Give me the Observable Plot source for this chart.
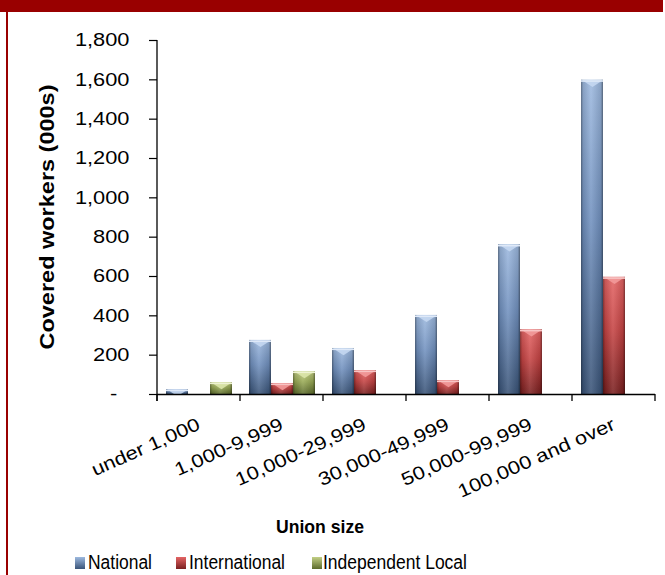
<!DOCTYPE html>
<html>
<head>
<meta charset="utf-8">
<script src="https://cdn.jsdelivr.net/npm/d3@7"></script>
<script src="https://cdn.jsdelivr.net/npm/@observablehq/plot@0.6"></script>
<style>
html, body { margin: 0; padding: 0; background: #fff; }
#wrap { position: relative; width: 665px; height: 575px; overflow: hidden; background: #fff; font-family: "Liberation Sans", Arial, sans-serif; }
#topbar { position: absolute; left: 0; top: 0; width: 663px; height: 12px; background: #990000; }
#leftline { position: absolute; left: 6px; top: 12px; width: 2px; height: 563px; background: #990000; }
#chart { position: absolute; left: 0; top: 0; }
#overlay { position: absolute; left: 0; top: 0; pointer-events: none; }
</style>
</head>
<body>
<div id="wrap">
  <div id="chart"></div>
  <div id="topbar"></div>
  <div id="leftline"></div>
</div>
<script>
// ---- data ----
const categories = ["under 1,000", "1,000-9,999", "10,000-29,999", "30,000-49,999", "50,000-99,999", "100,000 and over"];
const series = ["National", "International", "Independent Local"];
const national = [25, 275, 234, 402, 761, 1598];
const international = [null, 56, 122, 71, 329, 596];
const independentLocal = [61, 117, null, null, null, null];
const yTicks = [0, 200, 400, 600, 800, 1000, 1200, 1400, 1600, 1800];
const yLabel = "Covered workers (000s)";
const xLabel = "Union size";

const seriesValues = [national, international, independentLocal];
const rows = [];
categories.forEach((c, i) => {
  series.forEach((s, k) => {
    const v = seriesValues[k][i];
    if (v != null) rows.push({category: c, series: s, value: v});
  });
});

// gradient palettes (top, middle, bottom), bevel highlight and top edge colours
const grads = [
  {id: "gNat", stops: ["#9db9df", "#7191bf", "#3a5478"], bevel: "#c4d7f1", edge: "#dfe9f8"},
  {id: "gInt", stops: ["#e46464", "#c64444", "#7a2020"], bevel: "#f29a9a", edge: "#f8c4c4"},
  {id: "gLoc", stops: ["#c2cf85", "#9aab56", "#5c6b2c"], bevel: "#dbe5aa", edge: "#eef3d2"}
];

const fmt = d => d === 0 ? "-\u00a0\u00a0" : d3.format(",")(d);

// chevron-shaped top bevel symbol
const bevelSymbol = {
  draw(ctx, size) {
    const w = Math.sqrt(size / Math.PI);
    ctx.moveTo(-w, 0); ctx.lineTo(w, 0); ctx.lineTo(0, w * 0.65); ctx.closePath();
  }
};
const halfBar = (665 - 156 - 9) / 6 / 3.7 / 2;

const marks = [];
series.forEach((s, k) => {
  const data = rows.filter(r => r.series === s);
  marks.push(Plot.barY(data, {fx: "category", x: "series", y: "value", fill: `url(#${grads[k].id})`}));
  marks.push(Plot.barY(data, {fx: "category", x: "series", y: "value", fill: "url(#gEdge)"}));
  marks.push(Plot.dot(data, {fx: "category", x: "series", y: "value", symbol: bevelSymbol, r: halfBar - 1, fill: grads[k].bevel, fillOpacity: 0.9, stroke: "none", clip: true}));
  marks.push(Plot.tickY(data, {fx: "category", x: "series", y: "value", stroke: grads[k].edge, strokeWidth: 1.6, dy: 0.8, clip: true}));
});
marks.push(Plot.ruleY([0], {stroke: "#000", strokeWidth: 1.3}));
marks.push(Plot.axisY({ticks: yTicks, tickSize: 8, tickPadding: 20, tickFormat: fmt, fontSize: 18.5, stroke: "#000", strokeWidth: 1.2}));

const chart = Plot.plot({
  width: 665,
  height: 545,
  marginLeft: 156,
  marginRight: 9,
  marginTop: 40,
  marginBottom: 151,
  style: {fontFamily: "'Liberation Sans', Arial, sans-serif", fontSize: "18.5px", color: "#000", background: "transparent", overflow: "visible"},
  fx: {domain: categories, padding: 0, label: null, tickSize: 0, tickRotate: -24, tickPadding: 29, fontSize: 18.5},
  x: {domain: series, paddingInner: 0, paddingOuter: 0.35, axis: null},
  y: {domain: [0, 1800], label: null, axis: null},
  marks
});
document.getElementById("chart").appendChild(chart);

const svg = d3.select(chart);
// gradient definitions
const defs = svg.insert("defs", ":first-child");
grads.forEach(g => {
  const lg = defs.append("linearGradient").attr("id", g.id).attr("x1", 0).attr("y1", 0).attr("x2", 0).attr("y2", 1);
  lg.append("stop").attr("offset", 0).attr("stop-color", g.stops[0]);
  lg.append("stop").attr("offset", 0.45).attr("stop-color", g.stops[1]);
  lg.append("stop").attr("offset", 1).attr("stop-color", g.stops[2]);
});
const eg = defs.append("linearGradient").attr("id", "gEdge").attr("x1", 0).attr("y1", 0).attr("x2", 1).attr("y2", 0);
[[0, "#000", 0.4], [0.1, "#000", 0.12], [0.45, "#fff", 0.12], [0.9, "#000", 0.12], [1, "#000", 0.45]].forEach(([o, c, a]) =>
  eg.append("stop").attr("offset", o).attr("stop-color", c).attr("stop-opacity", a));

// axis line and category boundary ticks, from Plot's scales
const fxS = chart.scale("fx"), yS = chart.scale("y");
const y0 = yS.apply(0), yTop = yS.apply(1800);
const bounds = categories.map(c => fxS.apply(c));
bounds.push(fxS.apply(categories[categories.length - 1]) + fxS.bandwidth);
const ax = svg.append("g").attr("stroke", "#000").attr("stroke-width", 1.3);
ax.append("line").attr("x1", bounds[0]).attr("x2", bounds[0]).attr("y1", yTop).attr("y2", y0 + 7);
bounds.forEach(b => ax.append("line").attr("x1", b).attr("x2", b).attr("y1", y0).attr("y2", y0 + 7));

// widen axis text like the original
svg.selectAll("text").each(function () {
  const L = this.getComputedTextLength();
  if (L > 0) { this.setAttribute("textLength", L * 1.18); this.setAttribute("lengthAdjust", "spacingAndGlyphs"); }
});

// overlay: axis titles and legend
const ov = d3.select("#wrap").append("svg").attr("id", "overlay").attr("width", 665).attr("height", 575)
  .style("font-family", "'Liberation Sans', Arial, sans-serif");
ov.append("text").attr("transform", "translate(54,217) rotate(-90)").attr("text-anchor", "middle")
  .attr("font-weight", "bold").attr("font-size", 20).attr("textLength", 265).attr("lengthAdjust", "spacingAndGlyphs").text(yLabel);
ov.append("text").attr("x", 320).attr("y", 533).attr("text-anchor", "middle")
  .attr("font-weight", "bold").attr("font-size", 19).attr("textLength", 88).attr("lengthAdjust", "spacingAndGlyphs").text(xLabel);
const odefs = ov.append("defs");
grads.forEach(g => {
  const lg = odefs.append("linearGradient").attr("id", g.id + "L").attr("x1", 0).attr("y1", 0).attr("x2", 0).attr("y2", 1);
  lg.append("stop").attr("offset", 0).attr("stop-color", g.stops[0]);
  lg.append("stop").attr("offset", 1).attr("stop-color", g.stops[2]);
});
const legSwatchX = [75, 176, 312];
const legTextX = [88, 189, 323];
const legTextLen = [64, 96, 144];
series.forEach((s, k) => {
  ov.append("rect").attr("x", legSwatchX[k]).attr("y", 557).attr("width", 10).attr("height", 12).attr("fill", `url(#${grads[k].id}L)`);
  ov.append("text").attr("x", legTextX[k]).attr("y", 569).attr("font-size", 19.5)
    .attr("textLength", legTextLen[k]).attr("lengthAdjust", "spacingAndGlyphs").text(s);
});
</script>
</body>
</html>
